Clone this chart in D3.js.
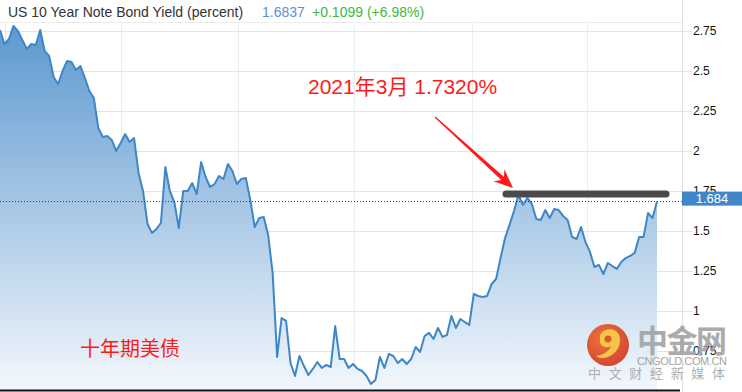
<!DOCTYPE html>
<html>
<head>
<meta charset="utf-8">
<script src="https://d3js.org/d3.v7.min.js"></script>
<style>
  body { margin: 0; background: #fff; }
  svg { display: block; font-family: "Liberation Sans", Arial, "Noto Sans CJK SC", sans-serif; }
</style>
</head>
<body>
<script>
// weekly closes of the US 10y note
var startDate = new Date(2018, 11, 24);
var yields = [
  2.756, 2.669, 2.70, 2.781, 2.75, 2.694, 2.638, 2.669, 2.663, 2.756,
  2.625, 2.594, 2.463, 2.419, 2.50, 2.563, 2.556, 2.506, 2.531, 2.456,
  2.375, 2.331, 2.144, 2.088, 2.094, 2.069, 2.00, 2.05, 2.106, 2.056, 2.081,
  1.863, 1.75, 1.544, 1.488, 1.513, 1.55, 1.90, 1.75, 1.681, 1.519,
  1.75, 1.75, 1.80, 1.731, 1.931, 1.838, 1.775, 1.794, 1.844, 1.825,
  1.919, 1.875, 1.794, 1.825, 1.831, 1.694, 1.525, 1.581, 1.588, 1.475,
  1.238, 0.713, 0.956, 0.938, 0.675, 0.594, 0.719, 0.656, 0.60, 0.638,
  0.681, 0.644, 0.663, 0.65, 0.906, 0.70, 0.70, 0.644, 0.669, 0.638,
  0.625, 0.594, 0.544, 0.569, 0.713, 0.644, 0.731, 0.719, 0.675, 0.70,
  0.669, 0.70, 0.775, 0.744, 0.844, 0.863, 0.825, 0.894, 0.838, 0.85,
  0.969, 0.894, 0.95, 0.931, 0.913, 1.106, 1.094, 1.088, 1.094, 1.169,
  1.20, 1.331, 1.456, 1.538, 1.625, 1.725, 1.663, 1.706,
  1.669, 1.575, 1.569, 1.631, 1.581, 1.638, 1.631, 1.594, 1.569, 1.463,
  1.45, 1.525, 1.431, 1.369, 1.275, 1.288, 1.231, 1.30, 1.281, 1.263,
  1.306, 1.331, 1.344, 1.363, 1.463, 1.463, 1.613, 1.581, 1.6837
];
var dates = yields.map(function(v, i) { return d3.timeWeek.offset(startDate, i); });
var tickValues = [0.75, 1, 1.25, 1.5, 1.75, 2, 2.25, 2.5, 2.75];
var tickLabels = ["0.75", "1", "1.25", "1.5", "1.75", "2", "2.25", "2.5", "2.75"];
var lastValue = 1.6837, lastLabel = "1.684";
var change = "+0.1099 (+6.98%)";
var peakValue = 1.732;
var title = "US 10 Year Note Bond Yield (percent)";
var note = "2021年3月 1.7320%";
var seriesName = "十年期美债";

var W = 742, H = 392, axisX = 682, bottom = 390;

var svg = d3.select("body").append("svg").attr("width", W).attr("height", H);

var x = d3.scaleTime().domain([dates[0], dates[dates.length - 1]]).range([0, 657]);
var y = d3.scaleLinear().domain([0.5, 2.75]).range([391, 31]);

var defs = svg.append("defs");
var grad = defs.append("linearGradient").attr("id", "fill")
  .attr("gradientUnits", "userSpaceOnUse").attr("x1", 0).attr("y1", 20).attr("x2", 0).attr("y2", bottom);
grad.append("stop").attr("offset", 0).attr("stop-color", "#5a97cf");
grad.append("stop").attr("offset", 1).attr("stop-color", "#f3f7fc");

// top rule
svg.append("line").attr("x1", 0).attr("x2", axisX).attr("y1", 22.5).attr("y2", 22.5)
  .attr("stroke", "#ececec");

// vertical grid, every half year
svg.append("g").selectAll("line")
  .data(x.ticks(d3.timeMonth.every(6)))
  .enter().append("line")
    .attr("x1", function(d) { return Math.round(x(d)) + 0.5; })
    .attr("x2", function(d) { return Math.round(x(d)) + 0.5; })
    .attr("y1", 22).attr("y2", bottom)
    .attr("stroke", "#e8edf3");

// horizontal grid
svg.append("g").selectAll("line")
  .data(tickValues)
  .enter().append("line")
    .attr("x1", 0).attr("x2", axisX)
    .attr("y1", function(d) { return Math.round(y(d)) + 0.5; })
    .attr("y2", function(d) { return Math.round(y(d)) + 0.5; })
    .attr("stroke", "#e3e3e3");

var area = d3.area()
  .x(function(d, i) { return x(dates[i]); })
  .y0(bottom)
  .y1(function(d) { return y(d); });
var line = d3.line()
  .x(function(d, i) { return x(dates[i]); })
  .y(function(d) { return y(d); });

svg.append("path").datum(yields).attr("d", area).attr("fill", "url(#fill)");
svg.append("path").datum(yields).attr("d", line)
  .attr("fill", "none").attr("stroke", "#3d87c9").attr("stroke-width", 2)
  .attr("stroke-linejoin", "round");

// last value guide
svg.append("line").attr("x1", 0).attr("x2", axisX)
  .attr("y1", y(lastValue)).attr("y2", y(lastValue))
  .attr("stroke", "#1a1aff").attr("stroke-width", 1).attr("stroke-dasharray", "1,2");

// bottom axis line
svg.append("line").attr("x1", 0).attr("x2", 680).attr("y1", bottom + 0.5).attr("y2", bottom + 0.5)
  .attr("stroke", "#111").attr("stroke-width", 2);

// right axis
svg.append("line").attr("x1", axisX + 0.5).attr("x2", axisX + 0.5).attr("y1", 0).attr("y2", H)
  .attr("stroke", "#e0e0e0");
var yAxis = svg.append("g").attr("transform", "translate(" + axisX + ",0)")
  .call(d3.axisRight(y).tickValues(tickValues).tickSize(10).tickPadding(1)
    .tickFormat(function(d, i) { return tickLabels[i]; }));
yAxis.select(".domain").remove();
yAxis.selectAll(".tick line").attr("stroke", "#e3e3e3");
yAxis.selectAll(".tick text").attr("fill", "#111").attr("font-size", 12)
  .attr("font-family", "'Liberation Sans', Arial, sans-serif");

// value badge
svg.append("rect").attr("x", axisX).attr("y", y(lastValue) - 10).attr("width", W - axisX).attr("height", 14)
  .attr("fill", "#3f87c9");
svg.append("text").attr("x", 712).attr("y", y(lastValue) - 3).attr("dy", "0.35em")
  .attr("text-anchor", "middle").attr("fill", "#fff").attr("font-size", 13).text(lastLabel);

// header
var head = svg.append("text").attr("x", 8).attr("y", 17).attr("font-size", 14);
head.append("tspan").attr("fill", "#333").text(title);
head.append("tspan").attr("x", 262).attr("fill", "#5b8fd6").text(d3.format(".4f")(lastValue));
head.append("tspan").attr("x", 312).attr("fill", "#3db83d").text(change);

// annotation: peak bar, arrow, red notes
svg.append("line").attr("x1", 506).attr("x2", 666)
  .attr("y1", y(peakValue)).attr("y2", y(peakValue))
  .attr("stroke", "#4a4a4a").attr("stroke-width", 7).attr("stroke-linecap", "round");

var tip = [513, 188], from = [435, 117];
var dx = tip[0] - from[0], dy = tip[1] - from[1], len = Math.hypot(dx, dy);
var ux = dx / len, uy = dy / len, px = -uy, py = ux;
var hb = [tip[0] - 19 * ux, tip[1] - 19 * uy];
var notch = [tip[0] - 14 * ux, tip[1] - 14 * uy];
var arrow = [
  [from[0] + 0.6 * px, from[1] + 0.6 * py],
  [notch[0] + 2 * px, notch[1] + 2 * py],
  [hb[0] + 8 * px, hb[1] + 8 * py],
  tip,
  [hb[0] - 8 * px, hb[1] - 8 * py],
  [notch[0] - 2 * px, notch[1] - 2 * py],
  [from[0] - 0.6 * px, from[1] - 0.6 * py]
];
svg.append("path").attr("d", d3.line()(arrow) + "Z").attr("fill", "#ff1a1a");

svg.append("text").attr("x", 308).attr("y", 94).attr("font-size", 21).attr("fill", "#ff1a1a")
  .text(note);
svg.append("text").attr("x", 80).attr("y", 356).attr("font-size", 20).attr("fill", "#ff1a1a")
  .attr("font-family", "'Noto Sans CJK SC', sans-serif").text(seriesName);

// watermark
var wm = svg.append("g").attr("opacity", 0.9);
var rg = defs.append("radialGradient").attr("id", "logo").attr("cx", "40%").attr("cy", "35%").attr("r", "70%");
rg.append("stop").attr("offset", 0).attr("stop-color", "#f06a2a");
rg.append("stop").attr("offset", 1).attr("stop-color", "#d2301a");
wm.append("circle").attr("cx", 608).attr("cy", 345).attr("r", 21).attr("fill", "url(#logo)");
wm.append("path")
  .attr("d", "M600,337 C600,328 616,326 619,335 C622,343 618,353 608,357 C603,359 598,358 596,356 C603,355 610,351 611,346 C606,349 600,346 600,341 Z")
  .attr("fill", "#f7c234");
wm.append("circle").attr("cx", 608).attr("cy", 339).attr("r", 3.5).attr("fill", "#e0471e");
wm.append("text").attr("x", 637).attr("y", 352).attr("font-size", 31).attr("font-weight", "bold")
  .attr("fill", "#a3a3a3").attr("textLength", 90).attr("font-family", "'Noto Sans CJK SC', sans-serif")
  .text("中金网");
wm.append("text").attr("x", 637).attr("y", 365).attr("font-size", 11)
  .attr("fill", "#9a9a9a").attr("textLength", 90).text("CNGOLD.COM.CN");
wm.append("text").attr("x", 588).attr("y", 378).attr("font-size", 13)
  .attr("fill", "#a8a8a8").attr("textLength", 137).attr("font-family", "'Noto Sans CJK SC', sans-serif")
  .text("中文财经新媒体");
</script>
</body>
</html>
